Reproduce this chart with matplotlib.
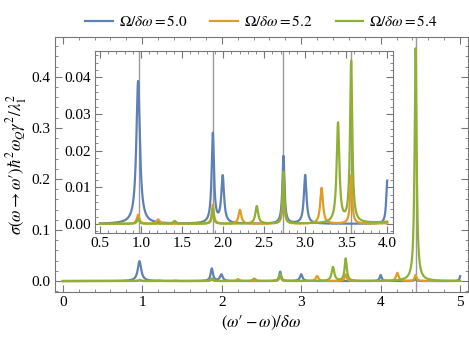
import numpy as np
import matplotlib
matplotlib.use("Agg")
import matplotlib.pyplot as plt
from matplotlib.ticker import MultipleLocator, FormatStrFormatter

plt.rcParams['font.family'] = ['Liberation Serif', 'DejaVu Serif']
plt.rcParams['mathtext.fontset'] = 'stix'

labels = [r'$\Omega/\delta\omega = 5.0$', r'$\Omega/\delta\omega = 5.2$', r'$\Omega/\delta\omega = 5.4$']
colors = ['#5E81B5', '#E19C24', '#8FB032']

# peaks: centre, height, half width
blue_pos = [0.965, 1.875, 1.995, 2.735, 3.0, 4.0, 4.44, 5.01]
blue_hgt = [0.039, 0.0245, 0.0128, 0.0185, 0.0133, 0.0118, 0.004, 0.016]
blue_wid = [0.026, 0.017, 0.020, 0.015, 0.019, 0.015, 0.014, 0.012]

orange_pos = [0.965, 1.21, 1.875, 2.205, 2.735, 3.2, 3.56, 4.21, 4.44]
orange_hgt = [0.0025, 0.0012, 0.0052, 0.0038, 0.012, 0.0098, 0.0132, 0.016, 0.012]
orange_wid = [0.018, 0.022, 0.015, 0.020, 0.012, 0.020, 0.015, 0.020, 0.014]

green_pos = [0.965, 1.41, 1.875, 2.41, 2.735, 3.40, 3.56, 4.44]
green_hgt = [0.0014, 0.0008, 0.0042, 0.0048, 0.0142, 0.0272, 0.0440, 0.456]
green_wid = [0.015, 0.022, 0.012, 0.020, 0.012, 0.020, 0.016, 0.015]

inset_lines = [0.97, 1.875, 2.735, 3.56]
main_line = 4.44


def spectrum(x, pos, hgt, wid):
    y = np.zeros_like(x)
    for p, h, w in zip(pos, hgt, wid):
        y += h * w**2 / ((x - p)**2 + w**2)
    return y


series = [(blue_pos, blue_hgt, blue_wid),
          (orange_pos, orange_hgt, orange_wid),
          (green_pos, green_hgt, green_wid)]

frame_col = '#777777'


def style(a):
    a.tick_params(which='both', direction='in', top=True, right=True, color=frame_col, labelsize=11)
    a.tick_params(which='major', length=5, pad=3)
    a.tick_params(which='minor', length=2.5)
    for s in a.spines.values():
        s.set_color(frame_col)


fig = plt.figure(figsize=(4.69, 3.46), dpi=100)
ax = fig.add_axes([0.117, 0.156, 0.881, 0.737])

x = np.linspace(0, 5, 4000)
ax.axvline(main_line, color='#999999', lw=1.0, zorder=1)
for (p, h, w), c, lab in zip(series, colors, labels):
    ax.plot(x, spectrum(x, p, h, w), color=c, lw=1.6, label=lab, zorder=2)

ax.set_xlim(-0.1, 5.1)
ax.set_ylim(-0.0215, 0.478)
ax.xaxis.set_major_locator(MultipleLocator(1))
ax.xaxis.set_minor_locator(MultipleLocator(0.2))
ax.yaxis.set_major_locator(MultipleLocator(0.1))
ax.yaxis.set_minor_locator(MultipleLocator(0.02))
ax.xaxis.set_major_formatter(FormatStrFormatter('%d'))
ax.yaxis.set_major_formatter(FormatStrFormatter('%.1f'))
ax.set_xlabel("$(\\omega\u2032 - \\omega)/\\delta\\omega$", fontsize=12, labelpad=3)
ax.set_ylabel("$\\sigma(\\omega\\rightarrow\\omega\u2032)\\hbar^2\\omega_Q\\gamma^2/\\lambda_1^2$", fontsize=12, labelpad=2)
style(ax)

ax.legend(loc='lower center', bbox_to_anchor=(0.5, 1.0), ncol=3, frameon=False,
          fontsize=11, handlelength=1.8, handletextpad=0.4, columnspacing=1.5,
          borderaxespad=0.1)

# inset
ins = fig.add_axes([0.2026, 0.3266, 0.6354, 0.526])
ins.set_facecolor('white')
xi = np.linspace(0.5, 4.0, 4000)
for v in inset_lines:
    ins.axvline(v, color='#999999', lw=1.0, zorder=1)
for (p, h, w), c in zip(series, colors):
    ins.plot(xi, spectrum(xi, p, h, w), color=c, lw=1.6, zorder=2)

ins.set_xlim(0.44, 4.07)
ins.set_ylim(-0.0025, 0.0472)
ins.xaxis.set_major_locator(MultipleLocator(0.5))
ins.xaxis.set_minor_locator(MultipleLocator(0.1))
ins.yaxis.set_major_locator(MultipleLocator(0.01))
ins.yaxis.set_minor_locator(MultipleLocator(0.002))
ins.xaxis.set_major_formatter(FormatStrFormatter('%.1f'))
ins.yaxis.set_major_formatter(FormatStrFormatter('%.2f'))
style(ins)

fig.savefig('out.png', dpi=100)
